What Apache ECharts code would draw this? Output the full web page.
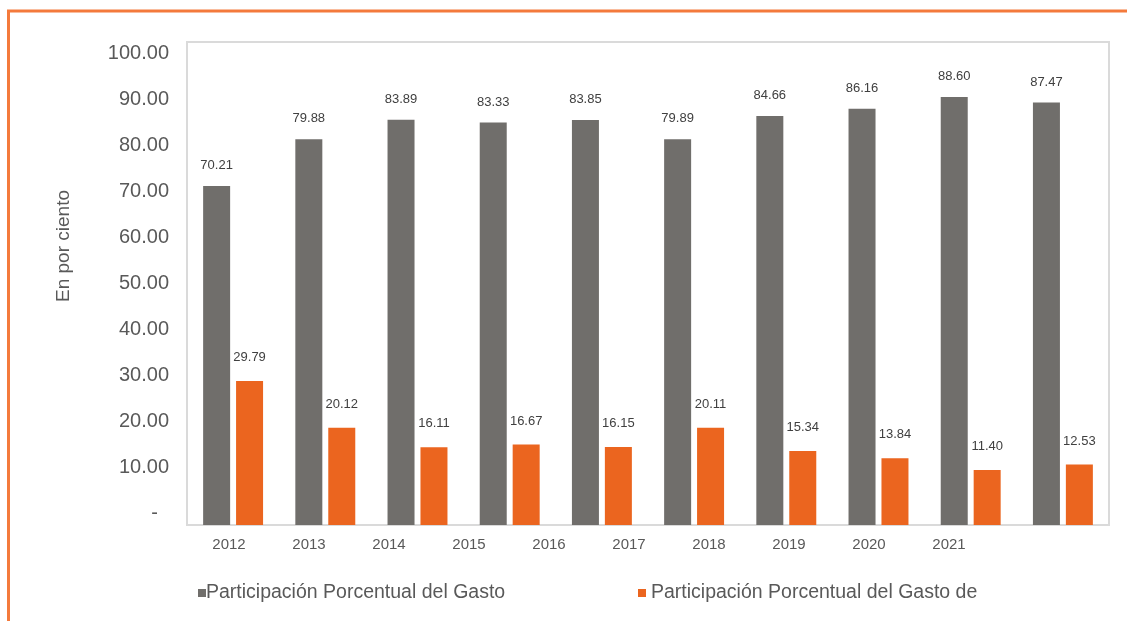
<!DOCTYPE html>
<html>
<head>
<meta charset="utf-8">
<script src="https://cdn.jsdelivr.net/npm/echarts@6/dist/echarts.min.js"></script>
<style>
  html, body { margin: 0; padding: 0; background: #ffffff; }
  #chart { width: 1127px; height: 621px; }
</style>
</head>
<body>
<div id="chart"></div>
<script>
// Años del periodo
const years = ['2012', '2013', '2014', '2015', '2016', '2017', '2018', '2019', '2020', '2021'];

// Participación porcentual (en por ciento)
const gastoPrincipal = [70.21, 79.88, 83.89, 83.33, 83.85, 79.89, 84.66, 86.16, 88.60, 87.47];
const gastoSecundario = [29.79, 20.12, 16.11, 16.67, 16.15, 20.11, 15.34, 13.84, 11.40, 12.53];

// Nombres de las series
const seriesNames = [
  'Participación Porcentual del Gasto',
  'Participación Porcentual del Gasto de'
];

// Marcas del eje vertical
const yMin = 0, yMax = 100, yStep = 10;

const FONT = '"Liberation Sans", Arial, sans-serif';
const GRAY = '#706e6b';
const ORANGE = '#eb651f';
const TEXT = '#595959';

const chart = echarts.init(document.getElementById('chart'), null, { renderer: 'canvas' });

chart.setOption({
  backgroundColor: '#ffffff',
  animation: false,
  textStyle: { fontFamily: FONT },
  grid: [
    // área de las barras
    { left: 187, right: 18, top: 42, bottom: 96, show: true, borderColor: '#dadada', borderWidth: 2, backgroundColor: 'transparent' },
    // fila de años
    { left: 189, right: 138, top: 42, bottom: 96 },
    // columna de valores
    { left: 189, right: 18, top: 53, bottom: 108 }
  ],
  xAxis: [
    { type: 'category', gridIndex: 0, data: years, axisLine: { show: false }, axisTick: { show: false }, axisLabel: { show: false } },
    { type: 'category', gridIndex: 1, data: years, axisLine: { show: false }, axisTick: { show: false },
      axisLabel: { color: TEXT, fontSize: 15, margin: 12, fontFamily: FONT } },
    { type: 'value', gridIndex: 2, show: false }
  ],
  yAxis: [
    { type: 'value', gridIndex: 0, min: yMin, max: yMax, interval: yStep, show: false, splitLine: { show: false } },
    { type: 'value', gridIndex: 1, show: false },
    { type: 'value', gridIndex: 2, min: yMin, max: yMax, interval: yStep,
      name: 'En por ciento', nameLocation: 'middle', nameGap: 116, nameRotate: 90,
      nameTextStyle: { color: TEXT, fontSize: 19, fontFamily: FONT, padding: [0, 0, 0, 74] },
      axisLine: { show: false }, axisTick: { show: false }, splitLine: { show: false },
      axisLabel: { color: TEXT, fontSize: 20, margin: 20, fontFamily: FONT,
        formatter: v => v === 0 ? '-\u2007' : v.toFixed(2) } }
  ],
  legend: [
    { data: [seriesNames[0]], left: 198, top: 583, padding: 0, itemWidth: 8, itemHeight: 8, itemGap: 0,
      icon: 'rect', textStyle: { color: TEXT, fontSize: 19.5, fontFamily: FONT, padding: [0, 0, 0, -5] } },
    { data: [seriesNames[1]], left: 638, top: 583, padding: 0, itemWidth: 8, itemHeight: 8, itemGap: 0,
      icon: 'rect', textStyle: { color: TEXT, fontSize: 19.5, fontFamily: FONT } }
  ],
  series: [
    {
      name: seriesNames[0], type: 'bar', xAxisIndex: 0, yAxisIndex: 0,
      data: gastoPrincipal, barWidth: 27, barGap: '22%',
      itemStyle: { color: GRAY },
      label: { show: true, position: 'top', distance: 14, color: '#404040', fontSize: 13, fontFamily: FONT,
        formatter: p => p.value.toFixed(2) }
    },
    {
      name: seriesNames[1], type: 'bar', xAxisIndex: 0, yAxisIndex: 0,
      data: gastoSecundario, barWidth: 27, barGap: '22%',
      itemStyle: { color: ORANGE },
      label: { show: true, position: 'top', distance: 17, color: '#404040', fontSize: 13, fontFamily: FONT,
        formatter: p => p.value.toFixed(2) }
    }
  ],
  graphic: [
    // marco naranja superior e izquierdo
    { type: 'polyline', silent: true,
      shape: { points: [[8.5, 621], [8.5, 11], [1127, 11]] },
      style: { stroke: '#f47a3c', lineWidth: 3, fill: null } }
  ]
});
</script>
</body>
</html>
